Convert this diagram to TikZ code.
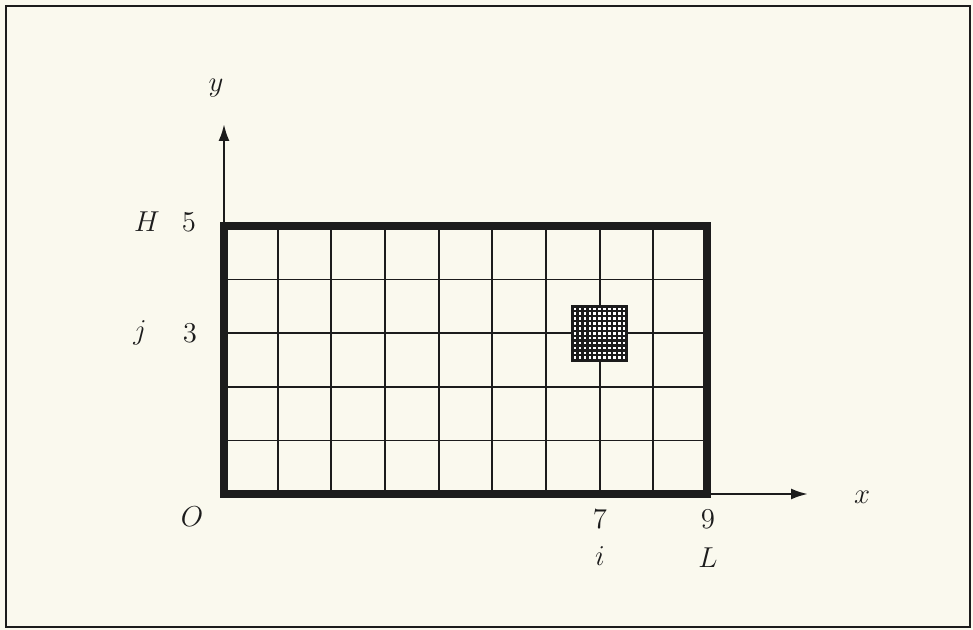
\documentclass[tikz,border=0pt]{standalone}
\usetikzlibrary{arrows.meta}
\definecolor{bg}{RGB}{250,249,238}
\definecolor{ink}{RGB}{28,28,28}
\begin{document}
\begin{tikzpicture}[x=0.5pt,y=-0.5pt,
  lab/.style={font=\fontsize{14.4}{17}\selectfont, inner sep=0pt, text=ink},
  gridline/.style={draw=ink, line width=0.9pt},
  border/.style={draw=ink, line width=3.6pt, line join=miter},
  axis/.style={draw=ink, line width=1.2pt, -{Latex[length=8.5pt,width=5.5pt]}},
  meshline/.style={draw=ink, line width=1.15pt}]
\fill[bg] (0,0) rectangle (973,630);
\useasboundingbox (0,0) rectangle (973,630);
\draw[ink, line width=1pt] (6,6) rectangle (970,627);
% corners of the domain
\coordinate (O) at (224,494);
\coordinate (TL) at (224,226);
\coordinate (BR) at (707,494);
\coordinate (TR) at (707,226);
\coordinate (ytip) at (224,124);
\coordinate (xtip) at (808,494);
% grid
\foreach \i in {1,...,8} {
  \draw[gridline] ({224+\i*483/9},226) -- ({224+\i*483/9},494);
}
\foreach \j in {1,...,4} {
  \draw[gridline] (224,{494-\j*268/5}) -- (707,{494-\j*268/5});
}
% fine mesh square centred on node (7,3)
\coordinate (C) at ({224+7*483/9},{494-3*268/5});
\fill[white] ([shift={(-27,-27)}]C) rectangle ([shift={(27,27)}]C);
\foreach \k in {1,...,10} {
  \draw[meshline] ([shift={({-27+\k*54/11},-27)}]C) -- ([shift={({-27+\k*54/11},27)}]C);
  \draw[meshline] ([shift={(-27,{-27+\k*54/11})}]C) -- ([shift={(27,{-27+\k*54/11})}]C);
}
\draw[draw=ink, line width=1.6pt] ([shift={(-27,-27)}]C) rectangle ([shift={(27,27)}]C);
% axes
\draw[axis] (TL) -- (ytip);
\draw[axis] (BR) -- (xtip);
% thick border
\draw[border] (O) rectangle (TR);
% labels
\node[lab] (ly) at (216,88) {$y$};
\node[lab] (lH) at (147,222) {$H$};
\node[lab] (l5) at (189,222) {5};
\node[lab] (lj) at (140,333) {$j$};
\node[lab] (l3) at (190,333) {3};
\node[lab] (lO) at (192,517) {$O$};
\node[lab] (l7) at (600,519) {7};
\node[lab] (l9) at (708,519) {9};
\node[lab] (li) at (600,556) {$i$};
\node[lab] (lL) at (708,558) {$L$};
\node[lab] (lx) at (862,497) {$x$};
\end{tikzpicture}
\end{document}
